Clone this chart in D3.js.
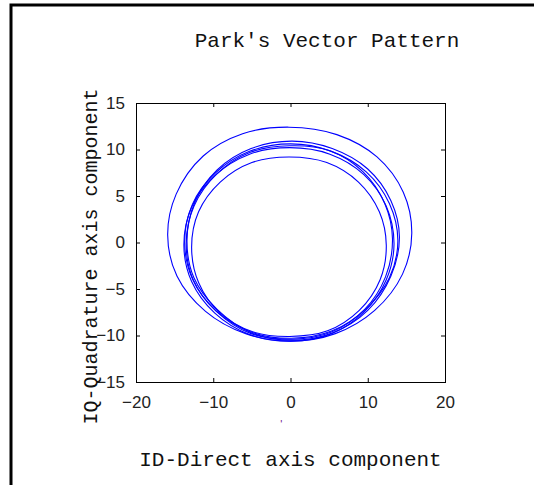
<!DOCTYPE html>
<html>
<head>
<meta charset="utf-8">
<script src="https://cdn.jsdelivr.net/npm/d3@7"></script>
<style>
  body { margin: 0; background: #fff; }
  svg { display: block; }
  .tick text { font-family: 'Liberation Sans', Arial, sans-serif; font-size: 17px; fill: #222; }
  .label { font-family: 'Liberation Mono', 'Courier New', monospace; font-size: 20px; fill: #111; }
  .loop { fill: none; stroke: #0000ff; stroke-width: 1.1; }
</style>
</head>
<body>
<svg id="chart" width="534" height="485"></svg>
<script>
// Park's vector loops, [ID, IQ] (counter-clockwise from the right)
const loopOuter = [[15.7, 1.0], [14.6, 5.4], [11.2, 9.2], [6.0, 11.6], [-0.2, 12.4], [-6.2, 11.7], [-11.3, 9.3], [-14.8, 5.2],
  [-15.9, 0.8], [-14.7, -3.6], [-11.0, -7.4], [-5.8, -9.8], [0.0, -10.6], [5.8, -9.8], [10.9, -7.3], [14.5, -3.4]]
const loopMain1 = [[13.9, 0.2], [12.8, 4.2], [9.8, 7.6], [5.3, 9.8], [0.0, 10.6], [-5.3, 9.8], [-9.7, 7.5], [-12.7, 4.1],
  [-13.7, 0.0], [-12.7, -3.9], [-9.7, -7.3], [-5.2, -9.6], [0.1, -10.3], [5.4, -9.5], [9.8, -7.1], [12.8, -3.8]]
const loopMain2 = [[14.1, 0.6], [13.0, 4.5], [10.0, 7.9], [5.4, 10.1], [0.2, 10.9], [-5.1, 10.1], [-9.5, 7.8], [-12.4, 4.3],
  [-13.4, 0.2], [-12.5, -3.8], [-9.5, -7.2], [-5.1, -9.7], [0.2, -10.5], [5.5, -9.7], [10.0, -7.3], [13.0, -3.6]]
const loopMain3 = [[13.4, -0.2], [12.4, 3.9], [9.5, 7.3], [5.1, 9.5], [-0.1, 10.2], [-5.3, 9.5], [-9.8, 7.2], [-12.8, 3.8],
  [-13.8, -0.3], [-12.8, -4.2], [-9.8, -7.6], [-5.3, -9.9], [0.0, -10.6], [5.3, -9.8], [9.6, -7.4], [12.4, -4.0]]
const loopMain4 = [[13.2, 0.4], [12.2, 4.2], [9.4, 7.6], [5.0, 9.9], [-0.1, 10.4], [-5.2, 9.7], [-9.5, 7.4], [-12.5, 3.9],
  [-13.5, -0.1], [-12.6, -4.0], [-9.6, -7.4], [-5.1, -9.8], [0.2, -10.4], [5.4, -9.6], [9.6, -7.2], [12.3, -3.7]]
const loopInner = [[12.4, -0.3], [11.5, 3.3], [8.8, 6.5], [4.7, 8.6], [-0.2, 9.2], [-5.0, 8.6], [-9.1, 6.5], [-11.9, 3.3],
  [-12.8, -0.5], [-11.9, -4.3], [-9.1, -7.6], [-4.9, -9.6], [-0.1, -10.1], [4.8, -9.5], [8.9, -7.3], [11.6, -4.0]]

const loops = [loopOuter, loopMain1, loopMain2, loopMain3, loopMain4, loopInner]

const xTicks = [-20, -10, 0, 10, 20]
const yTicks = [-15, -10, -5, 0, 5, 10, 15]
const title = "Park's Vector Pattern"
const xTitle = 'ID-Direct axis component'
const yTitle = 'IQ-Quadrature axis component'

const svg = d3.select('#chart')
const margin = { top: 103, left: 136, bottom: 103, right: 89 }
const width = +svg.attr('width') - margin.left - margin.right
const height = +svg.attr('height') - margin.top - margin.bottom

// page frame (left and top edges only)
svg.append('path')
  .attr('d', 'M11,485V5H534')
  .attr('fill', 'none').attr('stroke', '#000').attr('stroke-width', 3)

const xScale = d3.scaleLinear().domain([-20, 20]).range([0, width])
const yScale = d3.scaleLinear().domain([-15, 15]).range([height, 0])

const g = svg.append('g').attr('transform', `translate(${margin.left},${margin.top})`)

const line = d3.line()
  .x(d => xScale(d[0]))
  .y(d => yScale(d[1]))
  .curve(d3.curveCatmullRomClosed)

g.selectAll('.loop').data(loops).join('path')
  .classed('loop', true)
  .attr('d', line)

const tickLen = 4
const styleAxis = sel => {
  sel.select('.domain').remove()
  sel.selectAll('.tick line').attr('stroke', '#000')
}
g.append('g').attr('transform', `translate(0,${height})`)
  .call(d3.axisBottom(xScale).tickValues(xTicks).tickSizeInner(-tickLen).tickPadding(14))
  .call(styleAxis)
g.append('g')
  .call(d3.axisTop(xScale).tickValues(xTicks).tickSizeInner(-tickLen).tickFormat(''))
  .call(styleAxis)
g.append('g')
  .call(d3.axisLeft(yScale).tickValues(yTicks).tickSizeInner(-tickLen).tickPadding(11))
  .call(styleAxis)
g.append('g').attr('transform', `translate(${width},0)`)
  .call(d3.axisRight(yScale).tickValues(yTicks).tickSizeInner(-tickLen).tickFormat(''))
  .call(styleAxis)
g.selectAll('.tick text').attr('font-family', null).attr('font-size', null)

g.append('rect')
  .attr('width', width).attr('height', height)
  .attr('fill', 'none').attr('stroke', '#000').attr('stroke-width', 1)
  .attr('shape-rendering', 'crispEdges')

svg.append('text').classed('label', true)
  .attr('x', 327).attr('y', 47).attr('text-anchor', 'middle')
  .style('font-size', '21px')
  .text(title)
svg.append('text').classed('label', true)
  .attr('x', margin.left + width / 2).attr('y', 466).attr('text-anchor', 'middle')
  .style('font-size', '21px')
  .text(xTitle)
svg.append('text').classed('label', true)
  .attr('transform', `translate(97,${margin.top + height / 2 + 14}) rotate(-90)`)
  .attr('text-anchor', 'middle')
  .text(yTitle)

// small stray mark under the x axis
svg.append('text')
  .attr('x', margin.left + xScale(-1.2)).attr('y', 428)
  .attr('text-anchor', 'middle')
  .attr('font-family', 'Liberation Sans, sans-serif').attr('font-size', 11).attr('fill', '#70208a')
  .text("'")
</script>
</body>
</html>
